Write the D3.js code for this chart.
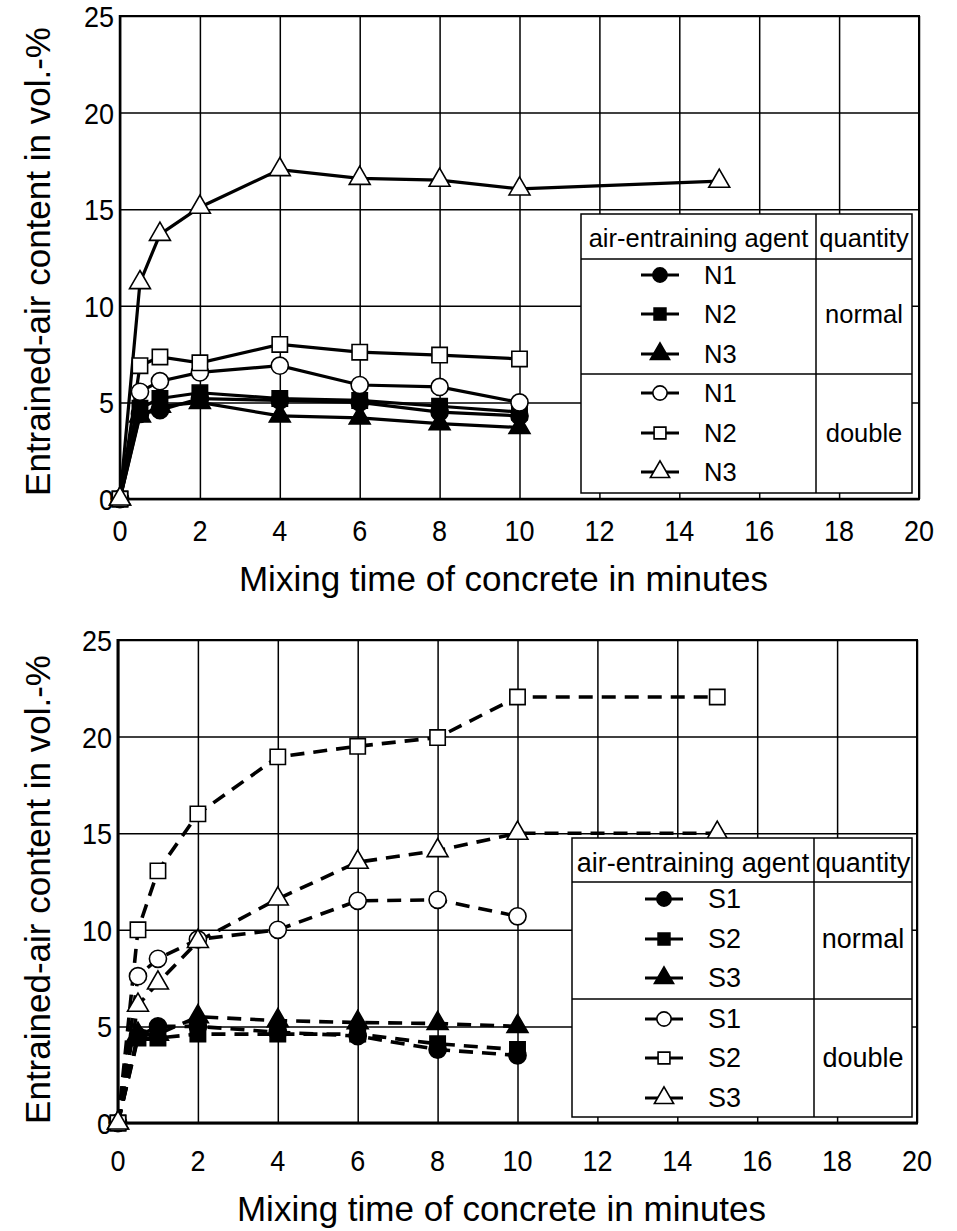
<!DOCTYPE html>
<html lang="en">
<head>
    <meta charset="utf-8">
    <title>Entrained-air content vs mixing time</title>
    <script src="https://d3js.org/d3.v7.js"></script>
    <style>
        body { margin: 0; background: #fff; }
        text { font-family: "Liberation Sans", Arial, sans-serif; fill: #000; }
        .grid line { stroke: #000; stroke-width: 1.5px; }
        .grid path { display: none; }
        .frame { fill: none; stroke: #000; stroke-width: 2px; }
    </style>
</head>
<body>
<svg width="957" height="1231"></svg>
<script type="text/javascript">
    // mixing time in minutes (the last point, 15 min, only exists for some series)
    let times = [0, 0.5, 1, 2, 4, 6, 8, 10, 15];

    // upper chart, agents N1..N3
    let nNormal1 = [0, 4.4, 4.6, 5.2, 5.1, 5.0, 4.5, 4.3];
    let nNormal2 = [0, 4.7, 5.2, 5.5, 5.2, 5.1, 4.8, 4.5];
    let nNormal3 = [0, 4.3, 4.8, 5.0, 4.3, 4.2, 3.9, 3.7];
    let nDouble1 = [0, 5.55, 6.1, 6.55, 6.9, 5.9, 5.8, 5.0];
    let nDouble2 = [0, 6.9, 7.35, 7.05, 8.0, 7.6, 7.45, 7.25];
    let nDouble3 = [0, 11.2, 13.7, 15.1, 17.05, 16.6, 16.5, 16.05, 16.45];

    // lower chart, agents S1..S3
    let sNormal1 = [0, 4.5, 5.0, 5.0, 4.7, 4.5, 3.8, 3.5];
    let sNormal2 = [0, 4.4, 4.4, 4.6, 4.6, 4.6, 4.1, 3.8];
    let sNormal3 = [0, 4.6, 4.6, 5.5, 5.3, 5.2, 5.15, 5.0];
    let sDouble1 = [0, 7.6, 8.5, 9.5, 10.0, 11.5, 11.55, 10.7];
    let sDouble2 = [0, 10.0, 13.05, 16.0, 18.95, 19.5, 19.95, 22.05, 22.05];
    let sDouble3 = [0, 6.1, 7.25, 9.4, 11.6, 13.5, 14.1, 15.0, 15.0];

    let xTicks = [0, 2, 4, 6, 8, 10, 12, 14, 16, 18, 20];
    let yTicks = [0, 5, 10, 15, 20, 25];
    let xTitle = "Mixing time of concrete in minutes";
    let yTitle = "Entrained-air content in vol.-%";
    let legendHeader = ["air-entraining agent", "quantity"];
    let quantities = ["normal", "double"];

    let svg = d3.select("svg");

    function marker(sel, shape, filled, size) {
        let sym = {circle: d3.symbolCircle, square: d3.symbolSquare, triangle: d3.symbolTriangle}[shape];
        sel.append("path")
            .attr("d", d3.symbol().type(sym).size(size))
            .attr("fill", filled ? "#000" : "#fff")
            .attr("stroke", "#000")
            .attr("stroke-width", 1.6);
    }

    // tick digits in the original are a bit narrow, so squeeze them horizontally
    function label(sel, x, y, txt, size, anchor, sx, rot) {
        return sel.append("text")
            .attr("transform", `translate(${x},${y})${rot ? " rotate(-90)" : ""} scale(${sx},1)`)
            .attr("text-anchor", anchor).attr("font-size", size).text(txt);
    }

    function drawChart(cfg) {
        let g = svg.append("g");
        let x = d3.scaleLinear().domain([0, 20]).range([cfg.left, cfg.right]);
        let y = d3.scaleLinear().domain([0, 25]).range([cfg.bottom, cfg.top]);

        // grid
        g.append("g").attr("class", "grid")
            .attr("transform", `translate(0,${cfg.bottom})`)
            .call(d3.axisBottom(x).tickValues(xTicks).tickSize(-(cfg.bottom - cfg.top)).tickFormat(""));
        g.append("g").attr("class", "grid")
            .attr("transform", `translate(${cfg.left},0)`)
            .call(d3.axisLeft(y).tickValues(yTicks).tickSize(-(cfg.right - cfg.left)).tickFormat(""));

        g.append("rect").attr("class", "frame")
            .attr("x", cfg.left).attr("y", cfg.top)
            .attr("width", cfg.right - cfg.left).attr("height", cfg.bottom - cfg.top);
        g.append("line").attr("x1", cfg.left).attr("x2", cfg.left).attr("y1", cfg.top - 1).attr("y2", cfg.bottom + 1)
            .attr("stroke", "#000").attr("stroke-width", cfg.axisW);
        g.append("line").attr("x1", cfg.left - 1).attr("x2", cfg.right + 1).attr("y1", cfg.bottom).attr("y2", cfg.bottom)
            .attr("stroke", "#000").attr("stroke-width", cfg.axisW);

        // tick labels
        xTicks.forEach(d => label(g, x(d), cfg.xLabY, d, 30, "middle", 0.9));
        yTicks.forEach(d => label(g, cfg.left - 6, y(d) + 11, d, 30, "end", 0.9));

        label(g, (cfg.left + cfg.right) / 2 - 16, cfg.xTitleY, xTitle, 35, "middle", 1);
        label(g, 50, (cfg.top + cfg.bottom) / 2 + cfg.yTitleOff, yTitle, 35, "middle", 1, true);

        // series
        let line = d3.line().x(d => x(d[0])).y(d => y(d[1]));
        cfg.series.forEach(s => {
            let pts = s.values.map((v, i) => [times[i], v]);
            g.append("path").datum(pts)
                .attr("d", line)
                .attr("fill", "none").attr("stroke", "#000")
                .attr("stroke-width", cfg.lineW)
                .attr("stroke-dasharray", cfg.dash);
        });
        cfg.series.forEach(s => {
            let pts = s.values.map((v, i) => [times[i], v]);
            pts.forEach(p => {
                let m = g.append("g").attr("transform", `translate(${x(p[0])},${y(p[1])})`);
                marker(m, s.shape, s.filled, s.shape === "triangle" ? 190 : (s.shape === "square" ? 235 : 230));
            });
        });

        // legend table
        let L = cfg.legend;
        let lg = g.append("g");
        lg.append("rect").attr("x", L.x0).attr("y", L.y0).attr("width", L.x1 - L.x0).attr("height", L.y1 - L.y0)
            .attr("fill", "#fff").attr("stroke", "#000").attr("stroke-width", 1.5);
        [[L.x0, L.hy, L.x1, L.hy], [L.x0, L.dy, L.x1, L.dy], [L.cx, L.y0, L.cx, L.y1]].forEach(c => {
            lg.append("line").attr("x1", c[0]).attr("y1", c[1]).attr("x2", c[2]).attr("y2", c[3])
                .attr("stroke", "#000").attr("stroke-width", 1.5);
        });
        lg.append("text").attr("x", (L.x0 + L.cx) / 2).attr("y", L.hy - L.hOff)
            .attr("text-anchor", "middle").attr("font-size", L.fs).text(legendHeader[0]);
        lg.append("text").attr("x", (L.cx + L.x1) / 2).attr("y", L.hy - L.hOff)
            .attr("text-anchor", "middle").attr("font-size", L.fs).text(legendHeader[1]);
        lg.append("text").attr("x", (L.cx + L.x1) / 2).attr("y", L.rows[1] + 9)
            .attr("text-anchor", "middle").attr("font-size", L.fs).text(quantities[0]);
        lg.append("text").attr("x", (L.cx + L.x1) / 2).attr("y", L.rows[4] + 9)
            .attr("text-anchor", "middle").attr("font-size", L.fs).text(quantities[1]);
        cfg.series.forEach((s, i) => {
            let ry = L.rows[i];
            lg.append("line").attr("x1", L.mx - 19).attr("x2", L.mx + 19).attr("y1", ry).attr("y2", ry)
                .attr("stroke", "#000").attr("stroke-width", 3);
            let m = lg.append("g").attr("transform", `translate(${L.mx},${ry})`);
            marker(m, s.shape, s.filled, s.shape === "triangle" ? 160 : (s.shape === "square" ? 140 : 160));
            lg.append("text").attr("x", L.mx + 44).attr("y", ry + 9).attr("font-size", L.fs).text(s.name);
        });
    }

    drawChart({
        left: 120, right: 919, top: 16, bottom: 499, axisW: 2.5,
        lineW: 3.2, dash: null, xLabY: 541, xTitleY: 591, yTitleOff: 4,
        series: [
            {name: "N1", values: nNormal1, shape: "circle", filled: true},
            {name: "N2", values: nNormal2, shape: "square", filled: true},
            {name: "N3", values: nNormal3, shape: "triangle", filled: true},
            {name: "N1", values: nDouble1, shape: "circle", filled: false},
            {name: "N2", values: nDouble2, shape: "square", filled: false},
            {name: "N3", values: nDouble3, shape: "triangle", filled: false}
        ],
        legend: {x0: 581, x1: 912, y0: 214, y1: 493, hy: 259, dy: 374, cx: 816, mx: 660, fs: 25.5, hOff: 12,
            rows: [275, 314, 354, 393, 433, 472]}
    });

    drawChart({
        left: 118, right: 917, top: 640, bottom: 1123, axisW: 3,
        lineW: 3.6, dash: "14,9", xLabY: 1171, xTitleY: 1221, yTitleOff: 8,
        series: [
            {name: "S1", values: sNormal1, shape: "circle", filled: true},
            {name: "S2", values: sNormal2, shape: "square", filled: true},
            {name: "S3", values: sNormal3, shape: "triangle", filled: true},
            {name: "S1", values: sDouble1, shape: "circle", filled: false},
            {name: "S2", values: sDouble2, shape: "square", filled: false},
            {name: "S3", values: sDouble3, shape: "triangle", filled: false}
        ],
        legend: {x0: 572, x1: 912, y0: 838, y1: 1117, hy: 882, dy: 999, cx: 814, mx: 664, fs: 27, hOff: 10,
            rows: [899, 939, 978, 1019, 1058, 1098]}
    });
</script>
</body>
</html>
